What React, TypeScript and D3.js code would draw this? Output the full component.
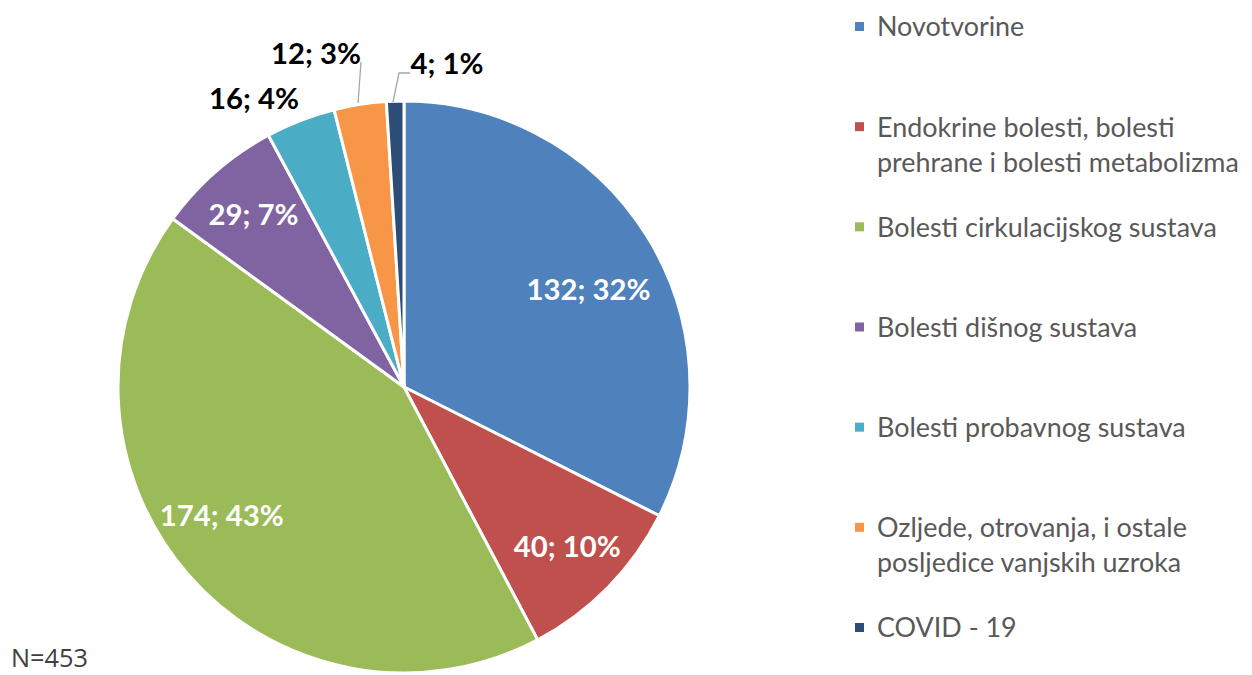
import React, { useEffect, useRef } from 'react';
import * as d3 from 'd3';

const categories = [
  ['Novotvorine'],
  ['Endokrine bolesti, bolesti', 'prehrane i bolesti metabolizma'],
  ['Bolesti cirkulacijskog sustava'],
  ['Bolesti dišnog sustava'],
  ['Bolesti probavnog sustava'],
  ['Ozljede, otrovanja, i ostale', 'posljedice vanjskih uzroka'],
  ['COVID - 19'],
];
const values = [132, 40, 174, 29, 16, 12, 4];
const colors = ['#4F81BD', '#C0504D', '#9BBB59', '#8064A2', '#4BACC6', '#F79646', '#2C4D75'];
const totalLabel = 'N=453';

const App = () => {
  const ref = useRef<SVGSVGElement>(null);

  useEffect(() => {
    const svg = d3.select(ref.current);
    svg.selectAll('*').remove();

    const cx = 404, cy = 387, r = 286;
    const font = 'Lato, "Open Sans", sans-serif';
    const total = d3.sum(values);

    // pick a font size so a sample string gets the width seen in the original
    const fitSize = (sample: string, weight: string, target: number, family = font) => {
      const t = svg.append('text')
        .attr('font-family', family)
        .attr('font-weight', weight)
        .attr('font-size', 100)
        .text(sample);
      const w = (t.node() as SVGTextElement).getComputedTextLength();
      t.remove();
      return w > 0 ? (100 * target) / w : 22;
    };
    const labelSize = fitSize('132; 32%', 'bold', 124);
    const legendSize = fitSize('Bolesti cirkulacijskog sustava', 'normal', 340);
    const nSize = fitSize(totalLabel, 'normal', 77, '"Open Sans", sans-serif');

    const pie = d3.pie<number>().sort(null).value(d => d);
    const arcs = pie(values);
    const arc = d3.arc<d3.PieArcDatum<number>>().innerRadius(0).outerRadius(r);

    const g = svg.append('g').attr('transform', `translate(${cx},${cy})`);

    g.selectAll('path.slice')
      .data(arcs)
      .enter().append('path')
      .attr('class', 'slice')
      .attr('d', arc)
      .attr('fill', (d, i) => colors[i])
      .attr('stroke', '#fff')
      .attr('stroke-width', 3)
      .attr('stroke-linejoin', 'round');

    const pct = (v: number) => `${v}; ${Math.round((v / total) * 100)}%`;

    // inside labels for the big slices (radius factor + small angle nudge)
    const insideR = [0.73, 0.8, 0.78, 0.8];
    const insideNudge = [0.065, 0, 0.1, 0];
    arcs.slice(0, 4).forEach((d, i) => {
      const a = (d.startAngle + d.endAngle) / 2 + insideNudge[i];
      const rr = r * insideR[i];
      g.append('text')
        .attr('x', Math.sin(a) * rr)
        .attr('y', -Math.cos(a) * rr)
        .attr('dy', '0.35em')
        .attr('text-anchor', 'middle')
        .attr('font-family', font)
        .attr('font-weight', 'bold')
        .attr('font-size', labelSize)
        .attr('fill', '#fff')
        .text(pct(values[i]));
    });

    // outside labels for small slices
    const outside = [
      { i: 4, dx: -150, dy: -288, line: null as null | number[][] },
      { i: 5, dx: -88, dy: -333, line: [[-43, -325], [-46, -284]] },
      { i: 6, dx: 43, dy: -323, line: [[6, -314], [-5, -314], [-11, -285]] },
    ];
    outside.forEach(o => {
      if (o.line) {
        g.append('path')
          .attr('d', d3.line()(o.line as [number, number][]))
          .attr('fill', 'none')
          .attr('stroke', '#a6a6a6')
          .attr('stroke-width', 1.3);
      }
      g.append('text')
        .attr('x', o.dx)
        .attr('y', o.dy)
        .attr('dy', '0.35em')
        .attr('text-anchor', 'middle')
        .attr('font-family', font)
        .attr('font-weight', 'bold')
        .attr('font-size', labelSize)
        .attr('fill', '#000')
        .text(pct(values[o.i]));
    });

    // legend
    const legendY = d3.scaleLinear().domain([0, categories.length - 1]).range([27, 628]);
    categories.forEach((lines, i) => {
      const y0 = legendY(i);
      const lg = svg.append('g');
      lg.append('rect')
        .attr('x', 855)
        .attr('y', y0 - 5)
        .attr('width', 9)
        .attr('height', 9)
        .attr('fill', colors[i]);
      lines.forEach((t, j) => {
        lg.append('text')
          .attr('x', 877)
          .attr('y', y0 + j * 35)
          .attr('dy', '0.35em')
          .attr('font-family', font)
          .attr('font-size', legendSize)
          .attr('fill', '#595959')
          .text(t);
      });
    });

    svg.append('text')
      .attr('x', 11)
      .attr('y', 667)
      .attr('font-family', '"Open Sans", sans-serif')
      .attr('font-size', nSize)
      .attr('fill', '#404040')
      .text(totalLabel);
  }, []);

  return (
    <svg
      ref={ref}
      width={1252}
      height={675}
      style={{ position: 'absolute', left: 0, top: 0, background: '#fff' }}
    />
  );
};

export default App;
